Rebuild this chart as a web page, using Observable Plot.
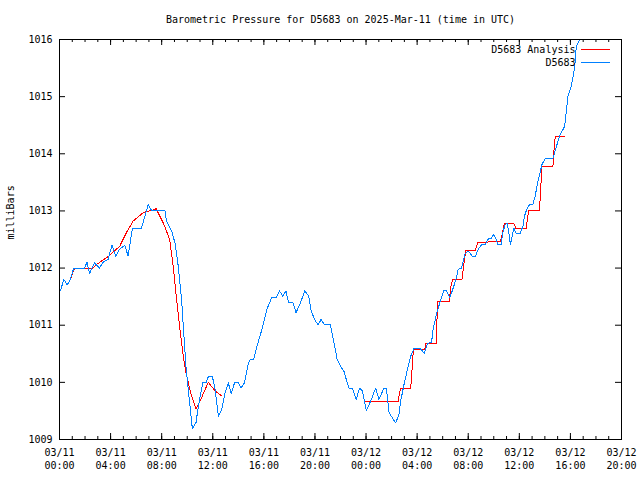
<!DOCTYPE html>
<html>
<head>
<meta charset="utf-8">
<script src="https://cdn.jsdelivr.net/npm/d3@7"></script>
<script src="https://cdn.jsdelivr.net/npm/@observablehq/plot@0.6"></script>
<style>
  html, body { margin: 0; padding: 0; background: #fff; }
  svg { display: block; }
</style>
</head>
<body>
<div id="chart"></div>
<script>
// ---- data (hours after 2025-03-11 00:00 UTC, pressure in millibars) ----
const title = "Barometric Pressure for D5683 on 2025-Mar-11 (time in UTC)";
const yLabel = "milliBars";
const seriesNames = ["D5683 Analysis", "D5683"];
const seriesColors = ["#ff0000", "#0080ff"];
const yTicks = [1009, 1010, 1011, 1012, 1013, 1014, 1015, 1016];

const obsHours = [0.08,0.34,0.6,0.79,1.12,1.96,2.15,2.36,2.75,3.14,3.40,3.80,4.11,4.40,4.71,5.11,5.37,5.71,6.42,6.94,7.21,8.25,8.38,8.78,9.04,9.30,9.56,9.69,9.90,10.08,10.27,10.40,10.69,10.87,11.21,11.47,11.65,11.97,12.18,12.44,12.71,12.96,13.22,13.44,13.70,14.01,14.20,14.48,14.80,14.93,15.19,15.46,15.85,16.24,16.63,16.97,17.23,17.47,17.73,17.94,18.28,18.52,18.86,19.20,19.51,19.70,20.04,20.25,20.48,20.74,21.21,21.47,21.74,22.00,22.26,22.65,22.92,23.23,23.49,23.71,24.02,24.36,24.75,25.01,25.40,25.59,25.80,26.06,26.32,26.58,26.71,26.97,27.24,27.50,27.76,28.21,28.55,28.81,29.13,29.25,29.54,29.86,30.07,30.31,30.56,30.70,31.04,31.22,31.48,31.74,32.00,32.35,32.55,32.79,33.06,33.32,33.57,33.79,34.00,34.18,34.31,34.57,34.71,34.89,35.04,35.18,35.30,35.44,35.57,35.75,36.07,36.28,36.40,36.62,36.80,37.06,37.24,37.46,37.77,38.03,38.63,39.15,39.55,39.81,40.07,40.33,40.46,40.72,40.86];
const obsValues = [1011.61,1011.80,1011.71,1011.77,1012.00,1012.00,1012.10,1011.91,1012.09,1012.00,1012.10,1012.15,1012.40,1012.21,1012.33,1012.40,1012.21,1012.70,1012.70,1013.11,1013.01,1013.01,1012.82,1012.65,1012.44,1012.03,1011.45,1010.98,1010.28,1009.88,1009.47,1009.19,1009.30,1009.58,1009.99,1009.99,1010.10,1010.10,1009.88,1009.41,1009.53,1009.82,1009.99,1009.80,1009.99,1009.99,1009.90,1009.99,1010.34,1010.40,1010.40,1010.63,1010.93,1011.28,1011.49,1011.49,1011.60,1011.51,1011.60,1011.39,1011.39,1011.22,1011.39,1011.60,1011.51,1011.25,1011.07,1011.01,1011.10,1011.01,1011.01,1010.72,1010.40,1010.28,1010.20,1009.90,1009.90,1009.70,1009.90,1009.85,1009.51,1009.67,1009.90,1009.70,1009.90,1009.90,1009.47,1009.38,1009.29,1009.44,1009.67,1009.96,1010.23,1010.46,1010.60,1010.60,1010.51,1010.68,1010.70,1010.93,1011.22,1011.45,1011.60,1011.60,1011.48,1011.57,1011.80,1011.98,1012.00,1012.24,1012.30,1012.20,1012.20,1012.33,1012.41,1012.41,1012.51,1012.51,1012.59,1012.51,1012.41,1012.41,1012.62,1012.76,1012.79,1012.62,1012.41,1012.56,1012.70,1012.61,1012.61,1012.73,1012.91,1013.05,1013.11,1013.11,1013.26,1013.52,1013.81,1013.92,1013.92,1014.31,1014.48,1015.01,1015.18,1015.50,1015.88,1016.00,1016.09];

const anaHours = [0.79,1.18,2.62,2.88,3.80,4.71,5.24,5.76,6.55,7.21,7.60,7.72,8.25,8.64,8.90,9.17,9.43,9.69,9.90,10.27,10.69,11.06,11.65,12.18,12.71,18.0,23.96,26.50,26.71,27.50,27.71,28.60,28.68,29.52,29.58,30.51,30.64,30.78,31.51,31.61,31.74,31.82,32.55,32.74,33.73,34.52,34.65,34.83,35.57,35.75,36.54,36.72,37.58,37.77,38.63,38.76,38.84,39.55];
const anaValues = [1011.77,1012.00,1012.00,1012.06,1012.20,1012.38,1012.62,1012.82,1012.97,1013.01,1013.04,1012.97,1012.73,1012.48,1012.03,1011.45,1010.93,1010.46,1010.17,1009.82,1009.54,1009.70,1010.00,1009.85,1009.76,null,1009.66,1009.66,1009.90,1009.90,1010.58,1010.58,1010.68,1010.68,1011.41,1011.41,1011.68,1011.80,1011.80,1011.98,1012.21,1012.31,1012.31,1012.44,1012.46,1012.46,1012.59,1012.78,1012.78,1012.69,1012.69,1013.00,1013.00,1013.78,1013.78,1014.22,1014.30,1014.30];

// ---- build tables ----
const t0 = Date.UTC(2025, 2, 11, 0, 0);
const toDate = h => new Date(t0 + h * 3600e3);
const obs = obsHours.map((h, i) => ({time: toDate(h), value: obsValues[i]}));
const ana = anaHours.map((h, i) => ({time: toDate(h), value: anaValues[i]}));

const xDomain = [toDate(0), toDate(44)];
const majorTicks = d3.utcHour.every(4).range(xDomain[0], new Date(+xDomain[1] + 1));
const minorTicks = d3.utcHour.every(1).range(xDomain[0], new Date(+xDomain[1] + 1));

const W = 640, H = 480;
const mL = 59, mR = 19, mT = 39, mB = 41;
const fw = W - mL - mR, fh = H - mT - mB;
const font = "DejaVu Sans Mono, monospace";

const chart = Plot.plot({
  width: W, height: H,
  marginLeft: mL, marginRight: mR, marginTop: mT, marginBottom: mB,
  style: {fontFamily: font, fontSize: "10px", color: "#000", background: "#fff"},
  x: {type: "utc", domain: xDomain},
  y: {domain: [1009, 1016]},
  marks: [
    // inward ticks (bottom/top: minor + major; left/right)
    Plot.ruleX(minorTicks, {x: d => d, insetTop: fh - 3, stroke: "#000"}),
    Plot.ruleX(minorTicks, {x: d => d, insetBottom: fh - 3, stroke: "#000"}),
    Plot.ruleX(majorTicks, {x: d => d, insetTop: fh - 6, stroke: "#000"}),
    Plot.ruleX(majorTicks, {x: d => d, insetBottom: fh - 6, stroke: "#000"}),
    Plot.ruleY(yTicks, {y: d => d, insetRight: fw - 6, stroke: "#000"}),
    Plot.ruleY(yTicks, {y: d => d, insetLeft: fw - 6, stroke: "#000"}),
    // axis labels
    Plot.axisX({ticks: majorTicks, tickSize: 0, tickPadding: 9, tickFormat: d3.utcFormat("%m/%d"), label: null, fontSize: 10}),
    Plot.axisX({ticks: majorTicks, tickSize: 0, tickPadding: 22, tickFormat: d3.utcFormat("%H:%M"), label: null, fontSize: 10}),
    Plot.axisY({ticks: yTicks, tickSize: 0, tickPadding: 7, tickFormat: d => String(d), label: null, fontSize: 10}),
    Plot.text([yLabel], {frameAnchor: "left", dx: -49, rotate: -90, fontSize: 10}),
    Plot.text([title], {frameAnchor: "top", dy: -20, lineAnchor: "middle", fontSize: 10}),
    // data
    Plot.line(ana, {x: "time", y: "value", stroke: seriesColors[0], strokeWidth: 1, clip: true}),
    Plot.line(obs, {x: "time", y: "value", stroke: seriesColors[1], strokeWidth: 1, clip: true}),
    // legend text
    Plot.text([seriesNames[0]], {frameAnchor: "top-right", dx: -46, dy: 10, textAnchor: "end", lineAnchor: "middle", fontSize: 10}),
    Plot.text([seriesNames[1]], {frameAnchor: "top-right", dx: -46, dy: 23, textAnchor: "end", lineAnchor: "middle", fontSize: 10}),
    Plot.frame({stroke: "#000"})
  ]
});

// legend line samples
const svg = d3.select(chart);
seriesColors.forEach((c, i) => {
  svg.append("line")
    .attr("x1", W - mR - 40).attr("x2", W - mR - 11)
    .attr("y1", mT + 10.5 + 13 * i).attr("y2", mT + 10.5 + 13 * i)
    .attr("stroke", c).attr("stroke-width", 1);
});
svg.selectAll("path").attr("shape-rendering", "crispEdges");

document.getElementById("chart").appendChild(chart);
</script>
</body>
</html>
